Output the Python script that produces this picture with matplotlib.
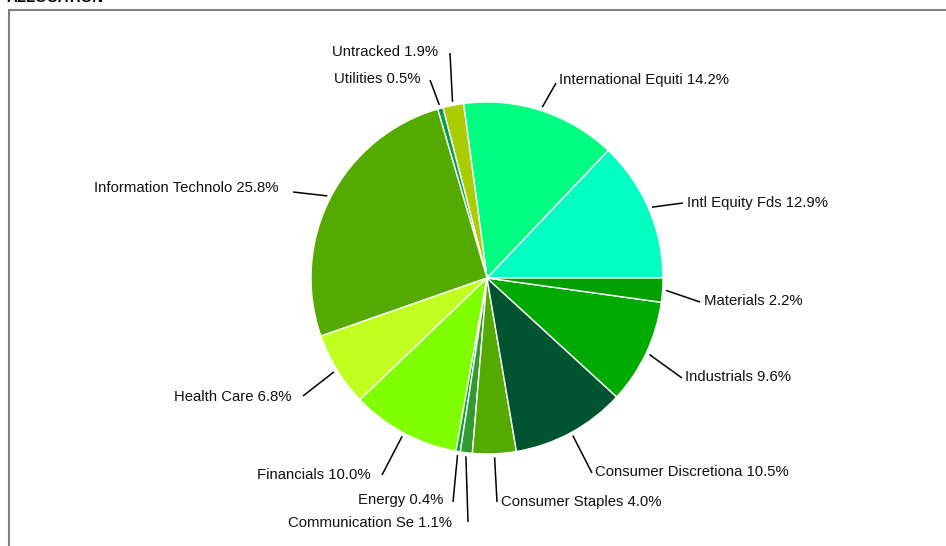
#!/usr/bin/env python3
"""
Allocation pie chart with outside labels and leader lines.
Saves out.png (946 x 546 px).
"""

import numpy as np
import matplotlib
matplotlib.use("Agg")
import matplotlib.pyplot as plt
from matplotlib.lines import Line2D

# ── Data ──────────────────────────────────────────────────────────────────────
LABELS = [
    "Intl Equity Fds", "International Equiti", "Untracked", "Utilities",
    "Information Technolo", "Health Care", "Financials", "Energy",
    "Communication Se", "Consumer Staples", "Consumer Discretiona",
    "Industrials", "Materials",
]
PCTS = [12.9, 14.2, 1.9, 0.5, 25.8, 6.8, 10.0, 0.4, 1.1, 4.0, 10.5, 9.6, 2.2]

COLORS = [
    "#00FFC0", "#00FF80", "#AACC00", "#00A050", "#55AA00", "#C0FF20",
    "#80FF00", "#00AA30", "#339930", "#55AA00", "#005530", "#00AA00",
    "#00A000",
]

# ── Layout (pixels in a 946 x 546 canvas) ────────────────────────────────────
W, H = 946, 546
CX, CY, R = 487, 278, 176     # pie centre and radius

# leader line end point, text anchor x, text centre y, text alignment
LEADER_END = [(683, 203), (556, 83), (450, 53), (430, 80), (293, 192),
              (303, 396), (382, 475), (453, 502), (468, 522), (497, 502),
              (592, 473), (682, 378), (700, 302)]
TEXT_POS = [(687, 203), (559, 80), (438, 52), (420, 79), (278, 188),
            (291, 397), (371, 475), (443, 500), (452, 523), (501, 502),
            (595, 472), (685, 377), (704, 301)]
TEXT_HA = ["left", "left", "right", "right", "right", "right", "right",
           "right", "right", "left", "left", "left", "left"]


def px(x, y):
    """pixel (top-left origin) -> data units (pie radius = 1)"""
    return (x - CX) / R, (CY - y) / R


plt.rcParams["font.family"] = ["Liberation Sans", "DejaVu Sans"]

fig = plt.figure(figsize=(W / 100, H / 100), dpi=100)
ax = fig.add_axes([0, 0, 1, 1])

wedges, _ = ax.pie(
    PCTS, colors=COLORS, startangle=0, counterclock=True, radius=1,
    center=(0, 0),
    wedgeprops=dict(edgecolor="white", linewidth=1.0),
)

x0, y0 = px(0, H)
x1, y1 = px(W, 0)
ax.set_xlim(x0, x1)
ax.set_ylim(y0, y1)
ax.set_aspect("auto")
ax.axis("off")

# ── Leader lines and labels ──────────────────────────────────────────────────
for w, lab, pct, end, tpos, ha in zip(wedges, LABELS, PCTS, LEADER_END,
                                      TEXT_POS, TEXT_HA):
    ang = np.deg2rad((w.theta1 + w.theta2) / 2)
    sx, sy = 1.02 * np.cos(ang), 1.02 * np.sin(ang)
    ex, ey = px(*end)
    ax.plot([sx, ex], [sy, ey], color="black", linewidth=1.1,
            solid_capstyle="butt", zorder=5)
    tx, ty = px(*tpos)
    ax.text(tx, ty, f"{lab} {pct:.1f}%", ha=ha, va="center",
            fontsize=10.7, color="#111111")

# ── Title (cut at the top edge, as in the source) and frame ─────────────────
tx, ty = px(7, 2)
ax.text(tx, ty, "ALLOCATION", ha="left", va="baseline", fontsize=10.8,
        fontweight="bold", color="black")

for (a, b) in [((9.5, 9), (9.5, H)), ((9, 9.5), (W, 9.5))]:
    (ax_, ay_), (bx_, by_) = px(*a), px(*b)
    ax.add_line(Line2D([ax_, bx_], [ay_, by_], color="#808080",
                       linewidth=1.5, solid_capstyle="butt"))

fig.savefig("out.png", dpi=100, facecolor="white")
